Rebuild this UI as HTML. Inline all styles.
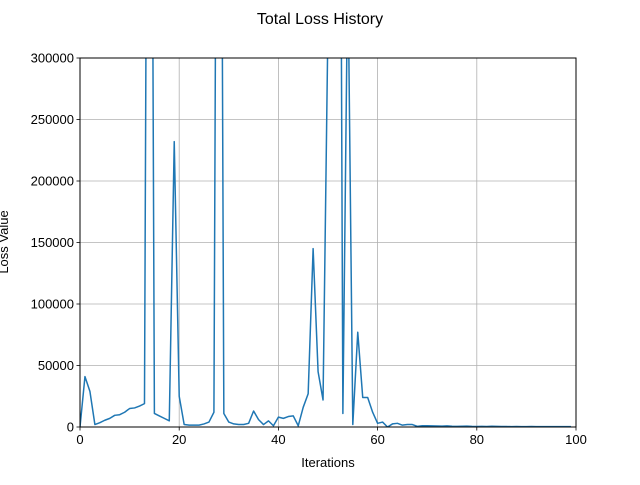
<!DOCTYPE html>
<html><head><meta charset="utf-8"><style>
body{margin:0;background:#fff}
svg{font-family:"Liberation Sans","DejaVu Sans",sans-serif}
</style></head><body>
<svg id="chart" width="640" height="480">
<rect width="640" height="480" fill="#fff"/>
<text x="320" y="24" text-anchor="middle" font-size="16">Total Loss History</text>
<g id="grid"></g>
<g id="plot"></g>
<rect x="80" y="58" width="496" height="369" fill="none" stroke="#000" stroke-width="1"/>
<g id="ticks"></g>
<text x="328" y="467" text-anchor="middle" font-size="13">Iterations</text>
<text transform="translate(8,242) rotate(-90)" text-anchor="middle" font-size="13">Loss Value</text>
</svg>
<script>
const lossValues=[0,41000,29000,2000,3500,5500,7000,9500,10000,12000,15000,15500,17000,19000,1000000,11000,9000,7000,5000,232000,25000,2000,1500,1500,1500,2500,4000,12000,1000000,11000,4000,2500,2000,2000,3000,13000,6000,2000,5000,1000,8000,7000,8500,9000,1000,16000,27000,145000,45000,22000,330000,1000000,1000000,11000,380000,2000,77000,24000,24000,12000,3000,4000,0,2500,3000,1500,2000,2000,500,1000,1000,900,800,700,900,600,500,600,700,500,400,500,400,600,500,400,400,300,400,300,300,400,300,300,300,300,300,300,300,300];
const xTicks=[0,20,40,60,80,100];
const yTicks=[0,50000,100000,150000,200000,250000,300000];
const X0=80,X1=576,Y0=427,Y1=58,XMAX=100,YMAX=300000;
const xs=v=>X0+(X1-X0)*v/XMAX, ys=v=>Y0-(Y0-Y1)*v/YMAX;
const NS="http://www.w3.org/2000/svg";
const grid=document.getElementById('grid'),ticks=document.getElementById('ticks'),plot=document.getElementById('plot');
function mk(tag,attrs,parent){const e=document.createElementNS(NS,tag);for(const k in attrs)e.setAttribute(k,attrs[k]);parent.appendChild(e);return e;}
xTicks.forEach(t=>{const x=xs(t);
 const g=mk('line',{x1:x,x2:x,y1:Y1,y2:Y0,stroke:'#b0b0b0','stroke-width':0.8},grid);
 
 
 mk('line',{x1:x,x2:x,y1:Y0,y2:Y0+3.5,stroke:'#000','stroke-width':0.8},ticks);
 const l=mk('text',{x:x,y:Y0+17,'text-anchor':'middle','font-size':13},ticks);l.textContent=t;
 
 
});
yTicks.forEach(t=>{const y=ys(t);
 const g=mk('line',{x1:X0,x2:X1,y1:y,y2:y,stroke:'#b0b0b0','stroke-width':0.8},grid);
 
 
 mk('line',{x1:X0-3.5,x2:X0,y1:y,y2:y,stroke:'#000','stroke-width':0.8},ticks);
 const l=mk('text',{x:X0-6,y:y+4.5,'text-anchor':'end','font-size':13},ticks);l.textContent=t;
 
 
});
mk('clipPath',{id:'clip'},plot);
mk('rect',{x:X0,y:Y1,width:X1-X0,height:Y0-Y1},plot.lastChild);
const d=lossValues.map((v,i)=>(i?'L':'M')+xs(i).toFixed(2)+','+ys(v).toFixed(2)).join('');
const p=mk('path',{d:d,fill:'none',stroke:'#1f77b4','stroke-width':1.5,'stroke-linejoin':'round','clip-path':'url(#clip)'},plot);


</script>
</body></html>
